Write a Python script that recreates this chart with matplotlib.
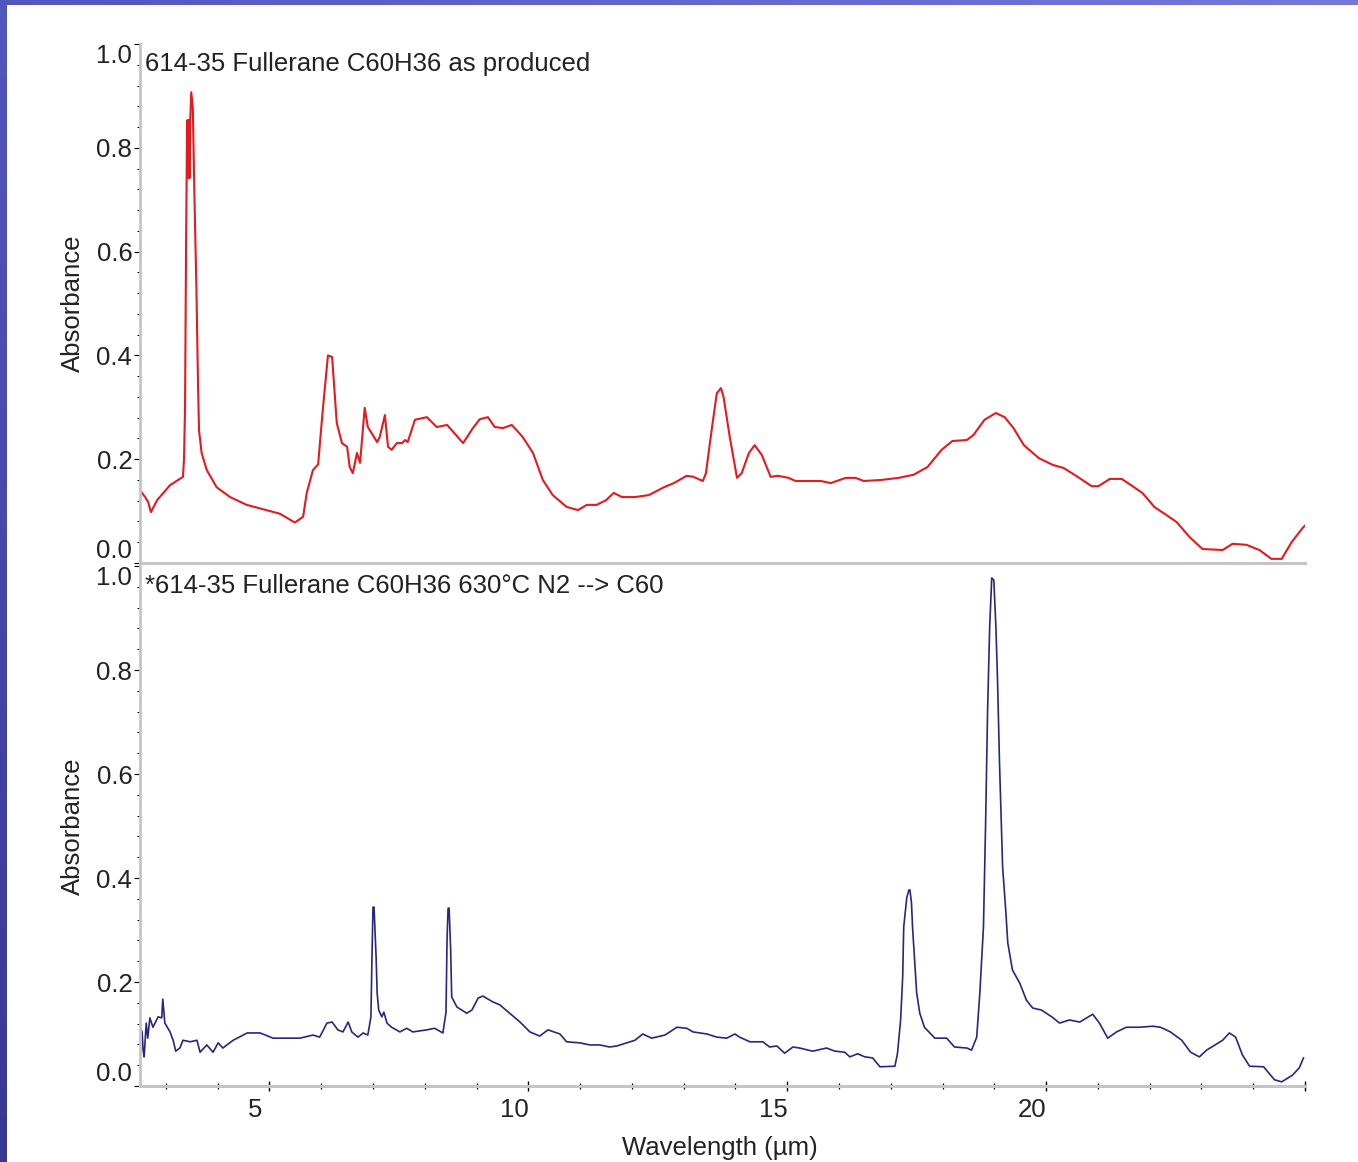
import matplotlib
matplotlib.use('Agg')
import matplotlib.pyplot as plt
import matplotlib.transforms as mtransforms
from matplotlib.patches import Rectangle
from matplotlib.ticker import MultipleLocator
import numpy as np

plt.rcParams['font.family'] = ['Liberation Sans', 'DejaVu Sans']

## Fullerano C60H36 como produzido
wl_top = [2.50, 2.60, 2.66, 2.71, 2.83, 3.08, 3.33, 3.35, 3.37, 3.39, 3.41, 3.42, 3.43, 3.44, 3.45,
          3.46, 3.47, 3.49, 3.52, 3.55, 3.59, 3.62, 3.64, 3.69, 3.79, 3.98, 4.24, 4.56, 5.20, 5.49,
          5.65, 5.72, 5.84, 5.94, 6.03, 6.13, 6.21, 6.30, 6.40, 6.50, 6.55, 6.61, 6.69, 6.75, 6.84,
          6.90, 7.08, 7.13, 7.23, 7.29, 7.36, 7.46, 7.56, 7.62, 7.67, 7.81, 8.04, 8.23, 8.43, 8.52,
          8.74, 8.93, 9.06, 9.22, 9.35, 9.51, 9.68, 9.89, 10.09, 10.28, 10.47, 10.74, 10.96, 11.13,
          11.32, 11.50, 11.65, 11.81, 12.06, 12.33, 12.62, 12.81, 13.06, 13.19, 13.37, 13.43, 13.54,
          13.64, 13.72, 13.77, 13.89, 14.03, 14.12, 14.26, 14.37, 14.51, 14.68, 14.82, 15.03, 15.16,
          15.65, 15.84, 16.13, 16.32, 16.48, 16.81, 17.15, 17.44, 17.71, 17.98, 18.19, 18.47, 18.60,
          18.81, 19.03, 19.20, 19.37, 19.57, 19.86, 20.13, 20.34, 20.61, 20.88, 21.01, 21.23, 21.46,
          21.67, 21.86, 22.09, 22.33, 22.52, 22.77, 23.02, 23.41, 23.60, 23.87, 24.12, 24.35, 24.55,
          24.74, 24.95, 25.00]
abs_top = [0.140, 0.127, 0.117, 0.098, 0.121, 0.150, 0.166, 0.200, 0.300, 0.617, 0.853, 0.742, 0.853, 0.742, 0.853,
           0.742, 0.853, 0.907, 0.877, 0.713, 0.526, 0.347, 0.256, 0.212, 0.179, 0.146, 0.127, 0.112, 0.095, 0.078,
           0.089, 0.135, 0.179, 0.190, 0.295, 0.400, 0.397, 0.270, 0.231, 0.224, 0.185, 0.173, 0.212, 0.193, 0.299,
           0.262, 0.233, 0.243, 0.285, 0.224, 0.218, 0.231, 0.231, 0.237, 0.233, 0.276, 0.281, 0.262, 0.266, 0.256,
           0.231, 0.260, 0.277, 0.281, 0.262, 0.260, 0.266, 0.243, 0.212, 0.160, 0.131, 0.108, 0.102, 0.112,
           0.112, 0.121, 0.135, 0.127, 0.127, 0.131, 0.146, 0.154, 0.168, 0.166, 0.158, 0.173, 0.256,
           0.327, 0.337, 0.320, 0.243, 0.164, 0.173, 0.212, 0.227, 0.208, 0.166, 0.168, 0.164, 0.158,
           0.158, 0.154, 0.164, 0.164, 0.158, 0.160, 0.164, 0.170, 0.185, 0.218, 0.235, 0.237, 0.247,
           0.276, 0.289, 0.281, 0.260, 0.227, 0.202, 0.189, 0.183, 0.166, 0.148, 0.148, 0.162, 0.162,
           0.148, 0.135, 0.108, 0.092, 0.079, 0.050, 0.027, 0.025, 0.037, 0.035, 0.025, 0.008, 0.008,
           0.040, 0.067, 0.072]

## Apos aquecimento a 630 C em N2
wl_bot = [2.50, 2.54, 2.56, 2.58, 2.62, 2.65, 2.69, 2.75, 2.85, 2.92, 2.94, 2.98, 3.08, 3.14, 3.19,
          3.27, 3.33, 3.47, 3.60, 3.66, 3.79, 3.91, 4.01, 4.10, 4.30, 4.57, 4.82, 5.07, 5.34, 5.59,
          5.84, 5.97, 6.11, 6.21, 6.32, 6.42, 6.52, 6.59, 6.71, 6.81, 6.90, 6.96, 6.98, 7.00, 7.02,
          7.06, 7.08, 7.11, 7.17, 7.21, 7.27, 7.36, 7.52, 7.65, 7.77, 8.04, 8.19, 8.35, 8.41, 8.43,
          8.45, 8.47, 8.50, 8.52, 8.62, 8.81, 8.91, 9.03, 9.12, 9.31, 9.45, 9.64, 9.84, 10.03, 10.22,
          10.38, 10.61, 10.74, 10.99, 11.19, 11.38, 11.57, 11.71, 11.90, 12.06, 12.21, 12.38, 12.64,
          12.87, 13.06, 13.18, 13.45, 13.64, 13.83, 13.99, 14.08, 14.28, 14.53, 14.66, 14.80, 14.95,
          15.11, 15.24, 15.49, 15.76, 15.92, 16.11, 16.21, 16.36, 16.50, 16.65, 16.79, 17.08, 17.13,
          17.19, 17.23, 17.25, 17.31, 17.35, 17.37, 17.40, 17.42, 17.46, 17.50, 17.56, 17.65, 17.85,
          18.08, 18.23, 18.47, 18.56, 18.66, 18.72, 18.79, 18.83, 18.87, 18.91, 18.95, 18.99, 19.03,
          19.06, 19.10, 19.16, 19.22, 19.26, 19.35, 19.49, 19.62, 19.74, 19.91, 20.11, 20.26, 20.45,
          20.65, 20.90, 21.03, 21.19, 21.36, 21.55, 21.80, 22.06, 22.21, 22.40, 22.62, 22.79, 22.96,
          23.10, 23.23, 23.41, 23.54, 23.66, 23.79, 23.93, 24.20, 24.41, 24.55, 24.76, 24.89, 24.97]
abs_bot = [0.113, 0.104, 0.069, 0.056, 0.121, 0.092, 0.131, 0.113, 0.133, 0.131, 0.167, 0.121, 0.104, 0.088, 0.067,
           0.073, 0.088, 0.085, 0.088, 0.065, 0.079, 0.065, 0.083, 0.073, 0.088, 0.102, 0.102, 0.092, 0.092, 0.092,
           0.098, 0.094, 0.121, 0.123, 0.108, 0.104, 0.123, 0.104, 0.094, 0.102, 0.098, 0.133, 0.248, 0.344, 0.344,
           0.248, 0.179, 0.146, 0.133, 0.142, 0.121, 0.113, 0.104, 0.111, 0.104, 0.108, 0.111, 0.102, 0.142, 0.281,
           0.342, 0.342, 0.262, 0.171, 0.152, 0.140, 0.146, 0.169, 0.173, 0.162, 0.156, 0.140, 0.123, 0.104, 0.096,
           0.108, 0.100, 0.085, 0.083, 0.079, 0.079, 0.075, 0.077, 0.083, 0.088, 0.100, 0.092, 0.098,
           0.113, 0.111, 0.104, 0.100, 0.094, 0.092, 0.100, 0.094, 0.085, 0.085, 0.075, 0.077, 0.063,
           0.075, 0.073, 0.067, 0.073, 0.067, 0.065, 0.056, 0.062, 0.056, 0.054, 0.037, 0.038, 0.063,
           0.127, 0.210, 0.306, 0.363, 0.377, 0.377, 0.352, 0.306, 0.242, 0.179, 0.140, 0.113, 0.092,
           0.092, 0.075, 0.073, 0.069, 0.094, 0.179, 0.306, 0.498, 0.723, 0.883, 0.977, 0.973, 0.883,
           0.787, 0.621, 0.421, 0.338, 0.275, 0.223, 0.198, 0.165, 0.150, 0.146, 0.133, 0.121, 0.127,
           0.123, 0.138, 0.121, 0.092, 0.104, 0.113, 0.113, 0.115, 0.113, 0.104, 0.088, 0.065, 0.056,
           0.069, 0.077, 0.088, 0.102, 0.094, 0.060, 0.038, 0.037, 0.012, 0.008, 0.021, 0.035, 0.054]

titulos = ['614-35 Fullerane C60H36 as produced',
           '*614-35 Fullerane C60H36 630\u00b0C N2 --> C60']
yticks = [0.0, 0.2, 0.4, 0.6, 0.8, 1.0]
ylabels = ['0.0', '0.2', '0.4', '0.6', '0.8', '1.0']
xticks = [5, 10, 15, 20, 25]
xlabels = ['5', '10', '15', '20', '']

# Figura

W, H = 1358, 1162
fig = plt.figure(figsize=(W / 100, H / 100), dpi=100)

## Moldura azul em degrade
bg = fig.add_axes([0, 0, 1, 1], zorder=-10)
bg.axis('off')
gy, gx = np.mgrid[0:1:40j, 0:1:40j]
c_tl = np.array([0.32, 0.34, 0.74])
c_tr = np.array([0.45, 0.47, 0.85])
c_bl = np.array([0.22, 0.22, 0.58])
grad = (c_tl[None, None, :] * (1 - gx[..., None]) * (1 - gy[..., None])
        + c_tr[None, None, :] * gx[..., None] * (1 - gy[..., None])
        + c_bl[None, None, :] * (1 - gx[..., None]) * gy[..., None]
        + c_tr[None, None, :] * gx[..., None] * gy[..., None])
bg.imshow(grad, extent=[0, 1, 0, 1], aspect='auto', interpolation='bilinear')
bg.add_patch(Rectangle((7 / W, 0), 1, 1 - 5 / H, facecolor='white', edgecolor='none'))
bg.set_xlim(0, 1)
bg.set_ylim(0, 1)

ax1 = fig.add_axes([140 / W, 1 - 563 / H, 1165 / W, 519 / H])
ax2 = fig.add_axes([140 / W, 1 - 1086 / H, 1165 / W, 520 / H])

ax1.plot(wl_top, abs_top, color='#e31a1f', lw=1.5)
ax2.plot(wl_bot, abs_bot, color='#27277f', lw=1.2)

cinza = '#c4c5cb'
texto = '#222222'
fs = 18.5

for ax, tit in zip([ax1, ax2], titulos):
    ax.set_xlim(2.5, 25)
    ax.set_ylim(0, 1.0)
    ax.spines['top'].set_visible(False)
    ax.spines['right'].set_visible(False)
    ax.spines['left'].set_color(cinza)
    ax.spines['left'].set_linewidth(2.0)
    ax.spines['bottom'].set_color(cinza)
    ax.spines['bottom'].set_linewidth(2.2)
    ax.set_yticks(yticks)
    ax.set_yticklabels(ylabels)
    ax.yaxis.set_minor_locator(MultipleLocator(0.04))
    ax.tick_params(axis='y', which='major', direction='out', length=4.5, width=0.8,
                   color='black', pad=1, labelsize=fs, labelcolor=texto)
    ax.tick_params(axis='y', which='minor', direction='out', length=2.2, width=0.8, color='black')
    labs = ax.get_yticklabels()
    labs[0].set_va('bottom')
    labs[-1].set_va('top')
    ax.text(0.004, 0.962, tit, transform=ax.transAxes, fontsize=fs, color=texto,
            ha='left', va='center')
    ax.set_ylabel('Absorbance', fontsize=fs, color=texto)
    ax.yaxis.set_label_coords(-0.047, 0.5)

ax1.tick_params(axis='x', which='both', bottom=False, labelbottom=False)

ax2.set_xticks(xticks)
ax2.set_xticklabels(xlabels)
ax2.xaxis.set_minor_locator(MultipleLocator(1))
ax2.tick_params(axis='x', which='major', direction='inout', length=7, width=1.0,
                color='black', pad=5, labelsize=fs, labelcolor=texto)
ax2.tick_params(axis='x', which='minor', direction='inout', length=4.5, width=0.9, color='black')
desloc = mtransforms.ScaledTranslation(-0.14, 0, fig.dpi_scale_trans)
for lab in ax2.get_xticklabels():
    lab.set_transform(lab.get_transform() + desloc)

fig.text(720 / W, 1 - 1148 / H, 'Wavelength (\u00b5m)', fontsize=fs, color=texto,
         ha='center', va='center')

plt.savefig('out.png', dpi=100)
